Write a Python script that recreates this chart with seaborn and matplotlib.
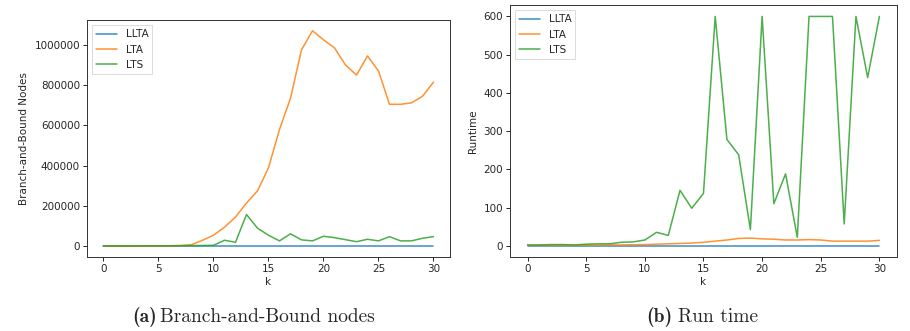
import numpy as np
import pandas as pd
import matplotlib
matplotlib.use("Agg")
import matplotlib.pyplot as plt
import seaborn as sns

k = list(range(31))
methods = ["LLTA", "LTA", "LTS"]

# Branch-and-Bound nodes
nodes_llta = [1000] * 31
nodes_lta = [500, 600, 700, 800, 1000, 1500, 2500, 4000, 8000, 30000, 55000,
             95000, 145000, 215000, 275000, 390000, 580000, 735000, 975000, 1070000, 1025000,
             985000, 900000, 850000, 945000, 870000, 705000, 705000, 712000, 745000, 815000]
nodes_lts = [2000, 2000, 2000, 2000, 2500, 2500, 3000, 3000, 3500, 4000, 5000,
             30000, 20000, 158000, 90000, 55000, 27000, 62000, 32000, 27000, 50000,
             43000, 33000, 23000, 35000, 27000, 48000, 27000, 27000, 40000, 48000]

# Runtime
time_llta = [0.5] * 31
time_lta = [1, 1, 1, 1, 1, 1.5, 1.5, 2, 2, 2.5, 3,
            4, 5, 6, 7, 9, 12, 15, 19, 20, 18,
            17, 15, 15, 16, 15, 12, 12, 12, 12, 14]
time_lts = [2, 2, 3, 3, 2, 4, 5, 5, 9, 10, 15,
            35, 27, 145, 98, 137, 600, 278, 238, 42, 600,
            110, 188, 22, 600, 600, 600, 57, 600, 440, 600]

df_nodes = pd.DataFrame({"k": k * 3, "method": sum([[m] * 31 for m in methods], []),
                         "value": nodes_llta + nodes_lta + nodes_lts})
df_time = pd.DataFrame({"k": k * 3, "method": sum([[m] * 31 for m in methods], []),
                        "value": time_llta + time_lta + time_lts})

sns.set_style("ticks")
plt.rcParams["font.family"] = ["DejaVu Sans"]
palette = sns.color_palette("tab10", 3)

fig = plt.figure(figsize=(9.10, 3.31), dpi=100)
ax1 = fig.add_axes([0.0956, 0.2236, 0.4945 - 0.0956, 0.9396 - 0.2236])
ax2 = fig.add_axes([0.5604, 0.2236, 0.9857 - 0.5604, 0.985 - 0.2236])

fs = 7.5
for ax, df, ylabel in [(ax1, df_nodes, "Branch-and-Bound Nodes"), (ax2, df_time, "Runtime")]:
    sns.lineplot(data=df, x="k", y="value", hue="method", palette=palette, ax=ax,
                 linewidth=1.1, alpha=0.85)
    ax.set_xlabel("k", fontsize=fs, labelpad=2)
    ax.set_ylabel(ylabel, fontsize=fs, labelpad=4)
    ax.set_xticks([0, 5, 10, 15, 20, 25, 30])
    ax.tick_params(labelsize=fs, length=3, width=0.7, pad=2)
    for s in ax.spines.values():
        s.set_linewidth(0.7)
        s.set_color("#333333")
    leg = ax.legend(loc="upper left", fontsize=fs, frameon=True, fancybox=False, title=None)
    leg.get_frame().set_linewidth(0.6)
    leg.get_frame().set_edgecolor("#cccccc")

ax1.ticklabel_format(axis="y", style="plain", useOffset=False)
ax2.set_yticks([0, 100, 200, 300, 400, 500, 600])

# captions
cap_y = 0.028
cfs = 14
fig.text(0.1725, cap_y, "(a)", fontsize=cfs, family="cmb10", ha="right", va="baseline")
fig.text(0.176, cap_y, "Branch-and-Bound nodes", fontsize=cfs, family="cmr10", ha="left", va="baseline")
fig.text(0.7385, cap_y, "(b)", fontsize=cfs, family="cmb10", ha="right", va="baseline")
fig.text(0.745, cap_y, "Run time", fontsize=cfs, family="cmr10", ha="left", va="baseline")

fig.savefig("out.png", dpi=100)
